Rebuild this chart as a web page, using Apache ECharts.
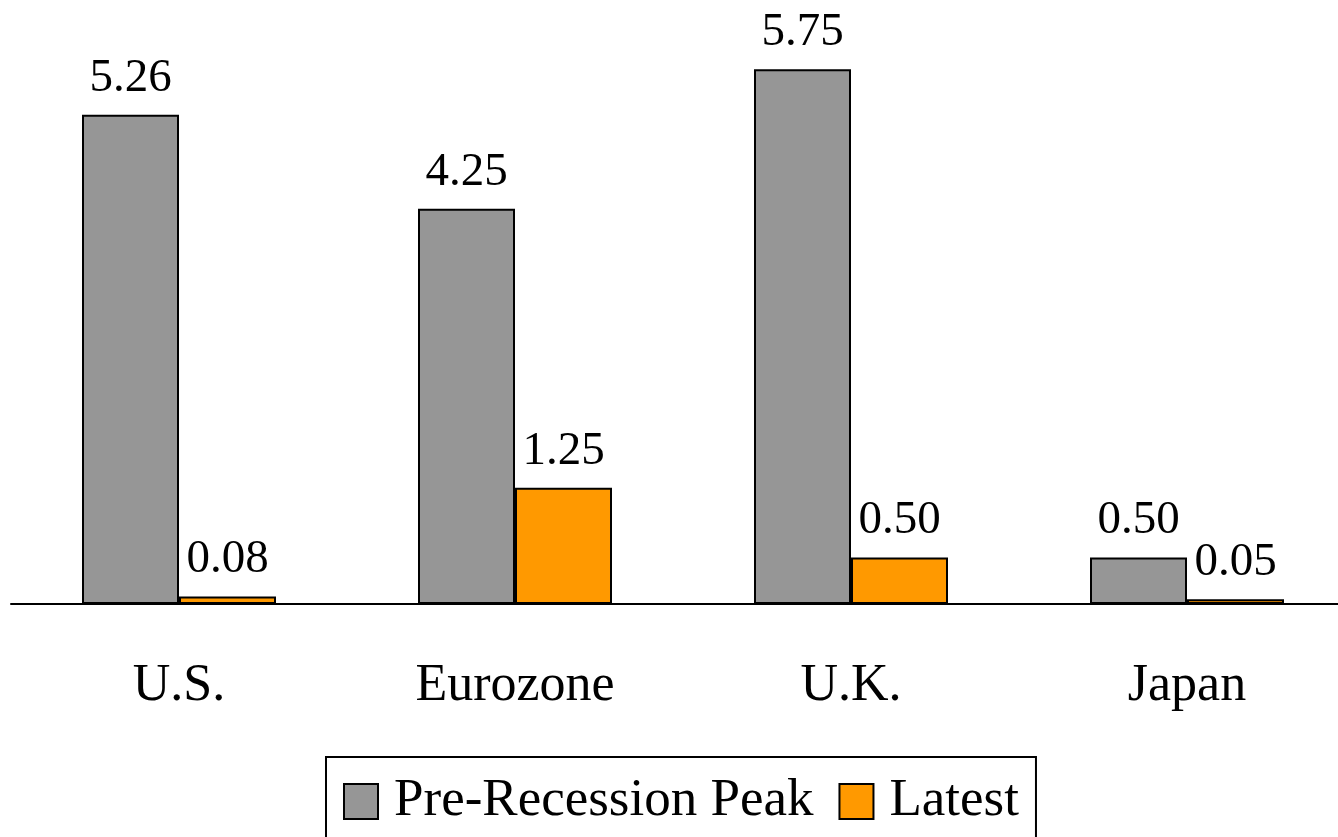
<!DOCTYPE html>
<html>
<head>
<meta charset="utf-8">
<title>Policy Rates</title>
<script src="https://cdn.jsdelivr.net/npm/echarts@6/dist/echarts.min.js"></script>
<style>
  html, body { margin: 0; padding: 0; background: #fff; }
  #chart { width: 1338px; height: 837px; }
</style>
</head>
<body>
<div id="chart"></div>
<script>
// Policy rates by economy (%)
const categories = ['U.S.', 'Eurozone', 'U.K.', 'Japan'];
const seriesNames = ['Pre-Recession Peak', 'Latest'];
const peakValues = [5.26, 4.25, 5.75, 0.50];
const latestValues = [0.08, 1.25, 0.50, 0.05];

const FONT = "'Liberation Serif', 'Times New Roman', serif";

const chart = echarts.init(document.getElementById('chart'), null, { renderer: 'canvas' });

const labelStyle = {
  show: true,
  position: 'top',
  distance: 13,
  color: '#000',
  fontFamily: FONT,
  fontSize: 47,
  formatter: p => p.value.toFixed(2)
};

chart.setOption({
  animation: false,
  backgroundColor: '#fff',
  // plot band runs a little past the right edge so the axis line reaches it
  grid: {
    left: 11, width: 1344, top: 46, height: 558,
    containLabel: false,
    outerBoundsMode: 'none'
  },
  xAxis: {
    type: 'category',
    data: categories,
    axisLine: { show: true, lineStyle: { color: '#000', width: 2 } },
    axisTick: { show: false },
    axisLabel: { color: '#000', fontFamily: FONT, fontSize: 52, margin: 56 }
  },
  yAxis: {
    type: 'value',
    min: 0,
    max: 6,
    show: false,
    splitLine: { show: false }
  },
  legend: {
    data: seriesNames,
    left: 326,
    top: 757,
    orient: 'horizontal',
    padding: [18, 17, 18, 17],
    itemWidth: 34,
    itemHeight: 35,
    itemGap: 25,
    borderColor: '#000',
    borderWidth: 2,
    backgroundColor: '#fff',
    icon: 'rect',
    itemStyle: { borderColor: '#000', borderWidth: 2 },
    textStyle: { color: '#000', fontFamily: FONT, fontSize: 53, padding: [0, 0, 0, 11] }
  },
  series: [
    {
      name: seriesNames[0],
      type: 'bar',
      data: peakValues,
      barWidth: 97,
      barGap: '0%',
      itemStyle: { color: '#969696', borderColor: '#000', borderWidth: 2 },
      label: labelStyle
    },
    {
      name: seriesNames[1],
      type: 'bar',
      data: latestValues,
      barWidth: 97,
      barGap: '0%',
      itemStyle: { color: '#FF9900', borderColor: '#000', borderWidth: 2 },
      label: labelStyle
    }
  ]
});
</script>
</body>
</html>
